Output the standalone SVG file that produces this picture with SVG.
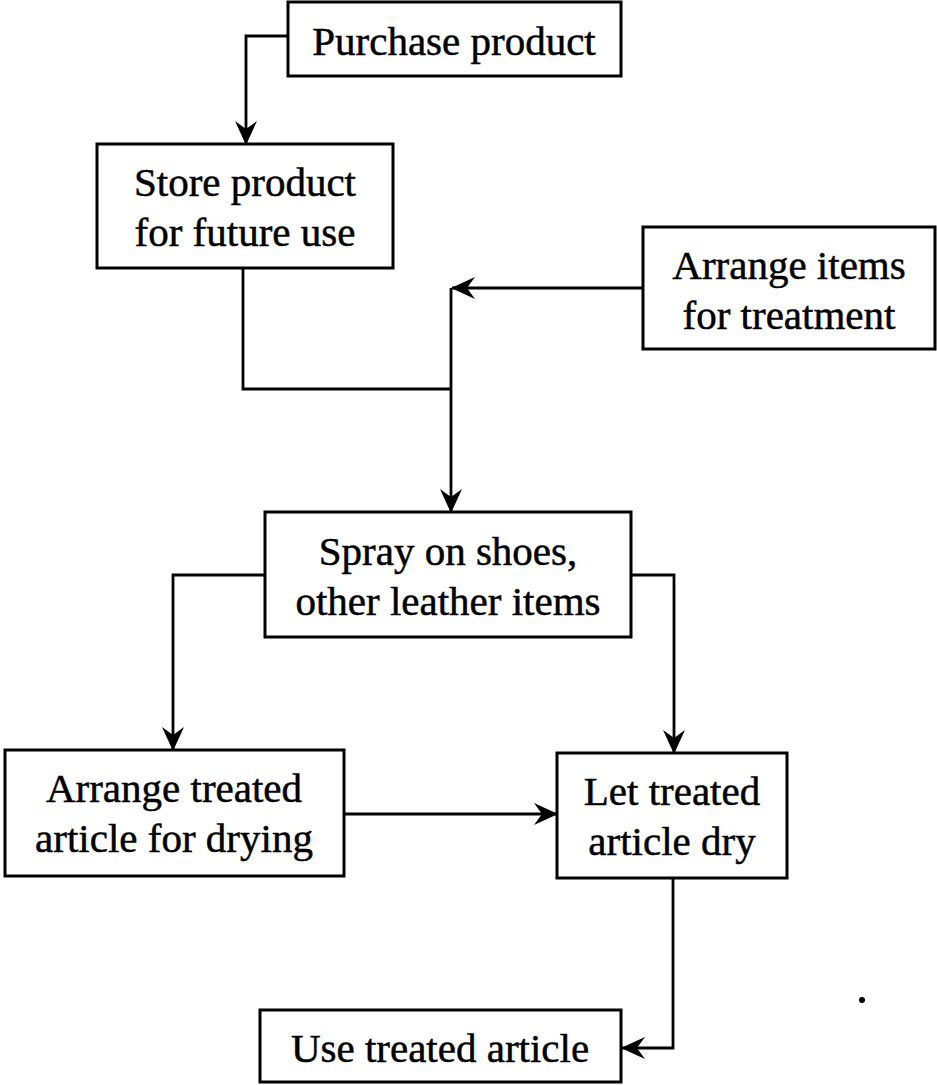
<svg xmlns="http://www.w3.org/2000/svg" width="937" height="1085" viewBox="0 0 937 1085">
  <style>
    .box { fill: #fff; stroke: #000; stroke-width: 3; }
    .lbl { font-family: "Liberation Serif", "Times New Roman", serif; font-size: 41px; fill: #000; stroke: #000; stroke-width: 0.5; text-anchor: middle; }
    .wire { fill: none; stroke: #000; stroke-width: 2.8; }
    .wire.arrow { marker-end: url(#head); }
  </style>
  <defs>
    <!-- barbed, notched arrowhead shared by all arrowed connectors -->
    <marker id="head" viewBox="0 0 24 22" refX="23" refY="11" markerWidth="24" markerHeight="22" markerUnits="userSpaceOnUse" orient="auto">
      <path d="M0,0 L24,11 L0,22 L8,11 Z" fill="#000"/>
    </marker>
  </defs>

  <rect width="937" height="1085" fill="#fff"/>

  <!-- connectors -->
  <g id="connectors">
    <path class="wire arrow" d="M288,36 H246 V144"/>
    <path class="wire" d="M243,268 V389 H451"/>
    <path class="wire arrow" d="M643,288 H452"/>
    <path class="wire arrow" d="M451,288 V512"/>
    <path class="wire arrow" d="M265,575 H173 V750"/>
    <path class="wire arrow" d="M631,575 H674 V753"/>
    <path class="wire arrow" d="M344,814 H557"/>
    <path class="wire arrow" d="M673,878 V1048 H622"/>
  </g>

  <!-- nodes -->
  <g id="purchase">
    <rect class="box" x="288" y="2" width="333" height="74"/>
    <text class="lbl" x="454" y="55">Purchase product</text>
  </g>
  <g id="store">
    <rect class="box" x="97" y="144" width="296" height="124"/>
    <text class="lbl" x="245" y="196">Store product</text>
    <text class="lbl" x="245" y="246">for future use</text>
  </g>
  <g id="arrange-items">
    <rect class="box" x="643" y="227" width="292" height="122"/>
    <text class="lbl" x="789" y="279">Arrange items</text>
    <text class="lbl" x="789" y="329">for treatment</text>
  </g>
  <g id="spray">
    <rect class="box" x="265" y="512" width="366" height="125"/>
    <text class="lbl" x="448" y="565">Spray on shoes,</text>
    <text class="lbl" x="448" y="615">other leather items</text>
  </g>
  <g id="arrange-treated">
    <rect class="box" x="5" y="750" width="339" height="126"/>
    <text class="lbl" x="174" y="802">Arrange treated</text>
    <text class="lbl" x="174" y="852">article for drying</text>
  </g>
  <g id="let-dry">
    <rect class="box" x="557" y="753" width="230" height="125"/>
    <text class="lbl" x="672" y="805">Let treated</text>
    <text class="lbl" x="672" y="855">article dry</text>
  </g>
  <g id="use">
    <rect class="box" x="260" y="1010" width="361" height="72"/>
    <text class="lbl" x="440" y="1062">Use treated article</text>
  </g>

  <!-- stray ink dot -->
  <circle cx="862" cy="1000" r="3" fill="#000"/>
</svg>
